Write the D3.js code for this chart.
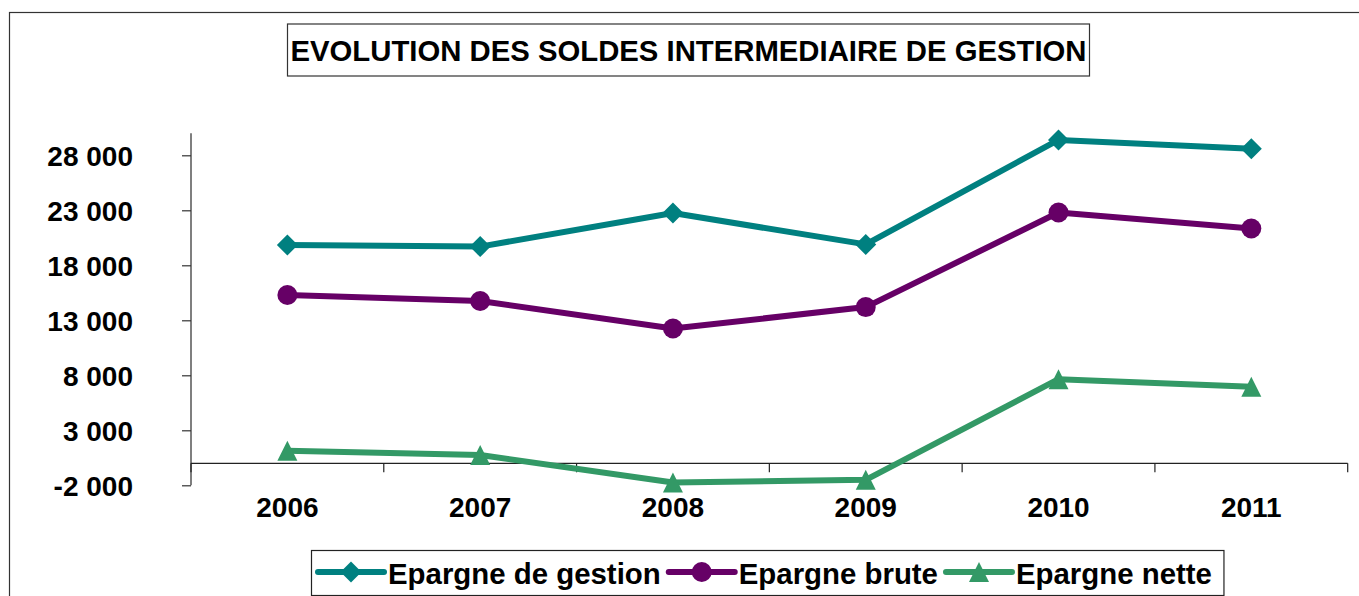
<!DOCTYPE html>
<html>
<head>
<meta charset="utf-8">
<script src="https://cdn.jsdelivr.net/npm/d3@7"></script>
<style>
	body { margin: 0; background: #fff; }
	svg { display: block; font-family: 'Liberation Sans', Arial, sans-serif; font-weight: bold; }
</style>
</head>
<body>
<script>
var years = ['2006', '2007', '2008', '2009', '2010', '2011'];
var epargneGestion = [19850, 19700, 22750, 19900, 29400, 28600];
var epargneBrute = [15300, 14750, 12250, 14200, 22800, 21350];
var epargneNette = [1150, 750, -1750, -1500, 7650, 6950];
var seriesNames = ['Epargne de gestion', 'Epargne brute', 'Epargne nette'];
var yTicks = [-2000, 3000, 8000, 13000, 18000, 23000, 28000];
var titleText = 'EVOLUTION DES SOLDES INTERMEDIAIRE DE GESTION';

var width = 1359, height = 596;
var plotLeft = 191, plotRight = 1347.7, plotTop = 133.3, plotBottom = 485.3;

var colors = ['#008080', '#660066', '#339966'];

// custom marker shapes
var diamond = {
	draw: function (ctx, size) {
		var r = Math.sqrt(size) / 2;
		ctx.moveTo(0, -r); ctx.lineTo(r, 0); ctx.lineTo(0, r); ctx.lineTo(-r, 0); ctx.closePath();
	}
};
var triangle = {
	draw: function (ctx, size) {
		var r = Math.sqrt(size) / 2;
		ctx.moveTo(0, -r); ctx.lineTo(r, r); ctx.lineTo(-r, r); ctx.closePath();
	}
};
var shapes = [diamond, d3.symbolCircle, triangle];
var shapeSizes = [441, 314, 400];

var series = [epargneGestion, epargneBrute, epargneNette].map(function (vals, i) {
	return { name: seriesNames[i], color: colors[i], shape: shapes[i], size: shapeSizes[i],
		values: vals.map(function (v, j) { return { year: years[j], value: v }; }) };
});

var fmt = d3.formatLocale({ decimal: ',', thousands: ' ', grouping: [3], currency: ['', ''], minus: '-' }).format(',d');

var svg = d3.select('body').append('svg').attr('width', width).attr('height', height);

// outer frame (runs past the right and bottom edges)
svg.append('rect').attr('x', 9.5).attr('y', 12.5).attr('width', 1400).attr('height', 700)
	.attr('fill', 'none').attr('stroke', '#333').attr('stroke-width', 1.2);

// title
svg.append('rect').attr('x', 287.5).attr('y', 24).attr('width', 802).attr('height', 52)
	.attr('fill', '#fff').attr('stroke', '#333').attr('stroke-width', 1.2);
svg.append('text').attr('x', 688.5).attr('y', 60.5).attr('text-anchor', 'middle')
	.attr('font-size', 29.3).attr('fill', '#000').text(titleText);

// scales
var x = d3.scaleBand().domain(years).range([plotLeft, plotRight]);
var y = d3.scaleLinear().domain([-2000, 30000]).range([plotBottom, plotTop]);

// y axis
var yAxis = d3.axisLeft(y).tickValues(yTicks).tickSize(9).tickPadding(49).tickFormat(fmt);
var yAxisEl = svg.append('g').attr('transform', 'translate(' + plotLeft + ',0)').call(yAxis);
yAxisEl.select('.domain').attr('stroke', '#555').attr('stroke-width', 1.5).attr('d', 'M0,' + plotTop + 'V' + plotBottom);
yAxisEl.selectAll('line').attr('stroke', '#333').attr('stroke-width', 1.2);
yAxisEl.selectAll('text').attr('font-size', 28).attr('font-family', null).attr('fill', '#000').attr('dy', '0.36em');

// x axis at zero, ticks between categories
var xAxisEl = svg.append('g').attr('transform', 'translate(0,' + y(0) + ')');
xAxisEl.append('line').attr('x1', plotLeft).attr('x2', plotRight).attr('stroke', '#222').attr('stroke-width', 1.2);
xAxisEl.selectAll('.tick').data(years.concat(['end'])).enter().append('line')
	.attr('x1', function (d, i) { return i < years.length ? x(d) : plotRight; })
	.attr('x2', function (d, i) { return i < years.length ? x(d) : plotRight; })
	.attr('y1', 0).attr('y2', 9).attr('stroke', '#222').attr('stroke-width', 1.2);
svg.append('g').selectAll('text').data(years).enter().append('text')
	.attr('x', function (d) { return x(d) + x.bandwidth() / 2; })
	.attr('y', 517).attr('text-anchor', 'middle').attr('font-size', 28).attr('fill', '#000')
	.text(function (d) { return d; });

// lines and markers
var line = d3.line()
	.x(function (d) { return x(d.year) + x.bandwidth() / 2; })
	.y(function (d) { return y(d.value); });

var seriesEl = svg.append('g').selectAll('g').data(series).enter().append('g');
seriesEl.append('path').attr('d', function (s) { return line(s.values); })
	.attr('fill', 'none').attr('stroke', function (s) { return s.color; })
	.attr('stroke-width', 6).attr('stroke-linejoin', 'round');
seriesEl.each(function (s) {
	d3.select(this).selectAll('.marker').data(s.values).enter().append('path')
		.attr('class', 'marker')
		.attr('d', d3.symbol().type(s.shape).size(s.size))
		.attr('transform', function (d) {
			return 'translate(' + (x(d.year) + x.bandwidth() / 2) + ',' + y(d.value) + ')';
		})
		.attr('fill', s.color);
});

// legend
var legendBox = svg.append('rect').attr('x', 311.5).attr('y', 550.5).attr('height', 45)
	.attr('fill', '#fff').attr('stroke', '#222').attr('stroke-width', 1.2);
var legend = svg.append('g');
var lx = 318, ly = 572, sampleLen = 66;
series.forEach(function (s) {
	var g = legend.append('g');
	g.append('line').attr('x1', lx).attr('x2', lx + sampleLen).attr('y1', ly).attr('y2', ly)
		.attr('stroke', s.color).attr('stroke-width', 6).attr('stroke-linecap', 'round');
	g.append('path').attr('d', d3.symbol().type(s.shape).size(s.size))
		.attr('transform', 'translate(' + (lx + sampleLen / 2) + ',' + ly + ')').attr('fill', s.color);
	var t = g.append('text').attr('x', lx + sampleLen + 4).attr('y', 583.5).attr('font-size', 29.4)
		.attr('fill', '#000').text(s.name);
	lx += sampleLen + 4 + t.node().getComputedTextLength() + 8;
});
legendBox.attr('width', lx - 311.5 + 4);
</script>
</body>
</html>
